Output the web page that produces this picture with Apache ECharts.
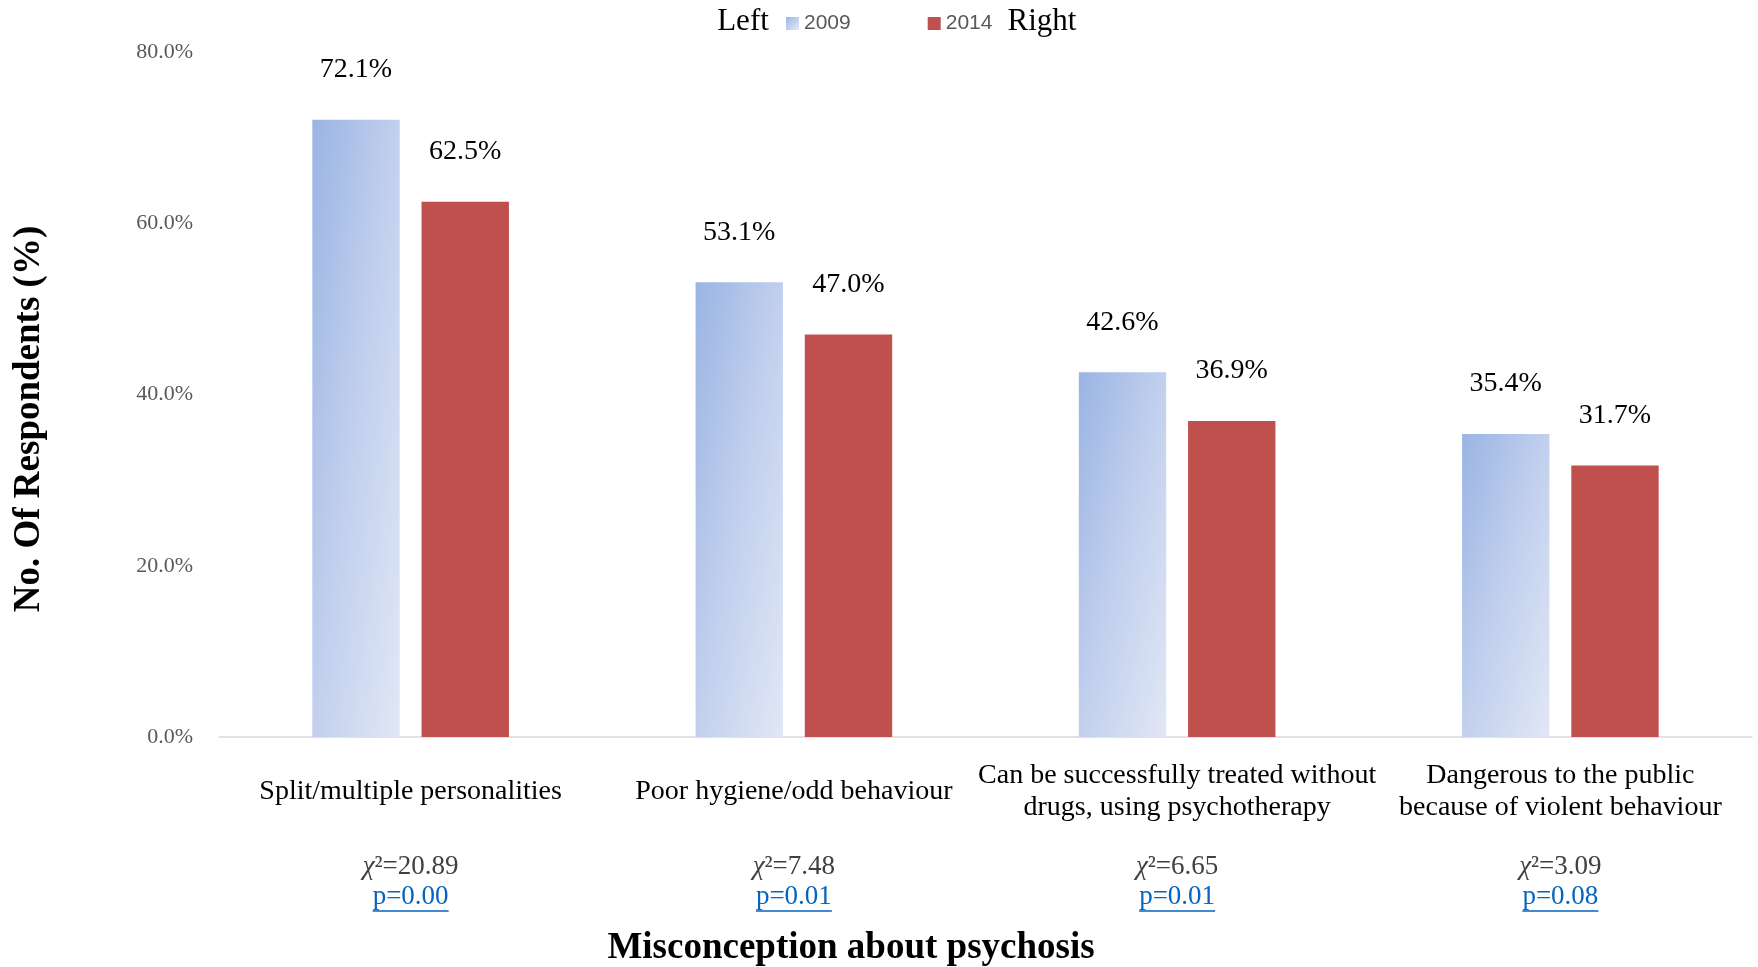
<!DOCTYPE html>
<html>
<head>
<meta charset="utf-8">
<script src="https://cdn.jsdelivr.net/npm/echarts@6/dist/echarts.min.js"></script>
<style>
  html, body { margin: 0; padding: 0; background: #ffffff; }
  #chart { width: 1758px; height: 967px; }
</style>
</head>
<body>
<div id="chart"></div>
<script>
// Misconceptions about psychosis, share of respondents in 2009 vs 2014
const categories = [
  'Split/multiple personalities',
  'Poor hygiene/odd behaviour',
  'Can be successfully treated without\ndrugs, using psychotherapy',
  'Dangerous to the public\nbecause of violent behaviour'
];
const seriesNames = ['2009', '2014'];
const values2009 = [72.1, 53.1, 42.6, 35.4];
const values2014 = [62.5, 47.0, 36.9, 31.7];
const chiSquare = ['20.89', '7.48', '6.65', '3.09'];
const pValues = ['0.00', '0.01', '0.01', '0.08'];
const yMin = 0, yMax = 80, yStep = 20;

const SERIF = '"Liberation Serif", "Times New Roman", serif';
const SANS = '"Liberation Sans", Arial, sans-serif';
const BLUE_STOPS = [
  { offset: 0, color: '#9ab4e3' },
  { offset: 0.5, color: '#c2d0ee' },
  { offset: 1, color: '#e1e7f5' }
];
const RED = '#c0504d';

const chart = echarts.init(document.getElementById('chart'), null, { renderer: 'canvas' });

const pct = v => Number(v).toFixed(1) + '%';

const labelStyle = {
  show: true,
  position: 'top',
  distance: 36,
  fontFamily: SERIF,
  fontSize: 28,
  color: '#000000',
  formatter: p => pct(p.value)
};

chart.setOption({
  backgroundColor: '#ffffff',
  animation: false,
  grid: { left: 219, right: 6, top: 52, bottom: 230, containLabel: false },
  legend: {
    data: seriesNames,
    left: 781,
    top: 8,
    itemWidth: 13,
    itemHeight: 13,
    itemGap: 77,
    icon: 'rect',
    textStyle: { fontFamily: SANS, fontSize: 21, color: '#595959' }
  },
  xAxis: {
    type: 'category',
    data: categories,
    axisTick: { show: false },
    axisLine: { show: true, lineStyle: { color: '#d9d9d9', width: 1.5 } },
    axisLabel: {
      interval: 0,
      margin: 55,
      verticalAlign: 'middle',
      fontFamily: SERIF,
      fontSize: 28,
      lineHeight: 32,
      color: '#000000'
    }
  },
  yAxis: {
    type: 'value',
    min: yMin,
    max: yMax,
    interval: yStep,
    axisLine: { show: false },
    axisTick: { show: false },
    splitLine: { show: false },
    axisLabel: {
      margin: 26,
      fontFamily: SERIF,
      fontSize: 22,
      color: '#595959',
      formatter: v => pct(v)
    }
  },
  series: [
    {
      name: seriesNames[0],
      type: 'bar',
      data: values2009,
      barWidth: '22.8%',
      barGap: '25%',
      itemStyle: { color: new echarts.graphic.LinearGradient(0, 0, 1, 1, BLUE_STOPS) },
      label: labelStyle
    },
    {
      name: seriesNames[1],
      type: 'bar',
      data: values2014,
      barWidth: '22.8%',
      barGap: '25%',
      itemStyle: { color: RED },
      label: labelStyle
    }
  ]
});

// The blue fill runs corner to corner in the bar's own proportions,
// so each bar gets a gradient vector scaled to its width and height.
const layoutData = chart.getModel().getSeriesByIndex(0).getData();
const blueData = values2009.map((v, i) => {
  const lay = layoutData.getItemLayout(i) || { width: 87, height: 500 };
  const w = Math.abs(lay.width), h = Math.abs(lay.height);
  const d = w * w + h * h;
  const x2 = 2 * h * h / d, y2 = 2 * w * w / d;
  return {
    value: v,
    itemStyle: { color: new echarts.graphic.LinearGradient(0, 0, x2, y2, BLUE_STOPS) }
  };
});

// Statistics under each category, placed through the category axis
const measure = document.createElement('canvas').getContext('2d');
const statFont = '27px ' + SERIF;
measure.font = statFont;
const statGraphics = [];
categories.forEach((c, i) => {
  const x = chart.convertToPixel({ xAxisIndex: 0 }, c);
  statGraphics.push({
    type: 'text',
    x: x, y: 867,
    style: {
      text: '{i|χ}²=' + chiSquare[i],
      font: statFont,
      fill: '#404040',
      align: 'center',
      verticalAlign: 'middle',
      rich: {
        i: { fontFamily: SERIF, fontSize: 27, fontStyle: 'italic', fill: '#404040' }
      }
    }
  });
  const pText = 'p=' + pValues[i];
  const pw = measure.measureText(pText).width;
  statGraphics.push({
    type: 'text',
    x: x, y: 897,
    style: {
      text: pText,
      font: statFont,
      fill: '#0563c1',
      align: 'center',
      verticalAlign: 'middle'
    }
  });
  statGraphics.push({
    type: 'line',
    shape: { x1: x - pw / 2, y1: 911, x2: x + pw / 2, y2: 911 },
    style: { stroke: '#0563c1', lineWidth: 1.5 }
  });
});

chart.setOption({
  series: [{ data: blueData }],
  graphic: [
    {
      type: 'text', x: 743, y: 22,
      style: { text: 'Left', font: '31px ' + SERIF, fill: '#000000', align: 'center', verticalAlign: 'middle' }
    },
    {
      type: 'text', x: 1042, y: 22,
      style: { text: 'Right', font: '31px ' + SERIF, fill: '#000000', align: 'center', verticalAlign: 'middle' }
    },
    {
      type: 'text', x: 29, y: 419, rotation: Math.PI / 2,
      style: { text: 'No. Of Respondents (%)', font: 'bold 37px ' + SERIF, fill: '#000000', align: 'center', verticalAlign: 'middle' }
    },
    {
      type: 'text', x: 851, y: 948,
      style: { text: 'Misconception about psychosis', font: 'bold 37px ' + SERIF, fill: '#000000', align: 'center', verticalAlign: 'middle' }
    }
  ].concat(statGraphics)
});
</script>
</body>
</html>
